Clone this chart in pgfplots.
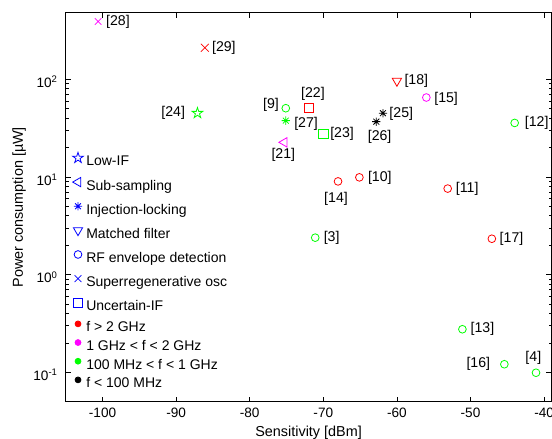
\documentclass[border=0pt]{standalone}
\usepackage{pgfplots}
\pgfplotsset{compat=1.18}
\usepackage{fontspec}
\setmainfont{Liberation Sans}
\pgfdeclareplotmark{pentagram}{%
  \pgfpathmoveto{\pgfqpoint{0pt}{\pgfplotmarksize}}%
  \pgfpathlineto{\pgfqpoint{-0.2245\pgfplotmarksize}{0.309\pgfplotmarksize}}%
  \pgfpathlineto{\pgfqpoint{-0.951\pgfplotmarksize}{0.309\pgfplotmarksize}}%
  \pgfpathlineto{\pgfqpoint{-0.363\pgfplotmarksize}{-0.118\pgfplotmarksize}}%
  \pgfpathlineto{\pgfqpoint{-0.588\pgfplotmarksize}{-0.809\pgfplotmarksize}}%
  \pgfpathlineto{\pgfqpoint{0pt}{-0.382\pgfplotmarksize}}%
  \pgfpathlineto{\pgfqpoint{0.588\pgfplotmarksize}{-0.809\pgfplotmarksize}}%
  \pgfpathlineto{\pgfqpoint{0.363\pgfplotmarksize}{-0.118\pgfplotmarksize}}%
  \pgfpathlineto{\pgfqpoint{0.951\pgfplotmarksize}{0.309\pgfplotmarksize}}%
  \pgfpathlineto{\pgfqpoint{0.2245\pgfplotmarksize}{0.309\pgfplotmarksize}}%
  \pgfpathclose
  \pgfusepathqstroke}
\pgfdeclareplotmark{ast8}{%
  \pgfpathmoveto{\pgfqpoint{-\pgfplotmarksize}{0pt}}%
  \pgfpathlineto{\pgfqpoint{\pgfplotmarksize}{0pt}}%
  \pgfpathmoveto{\pgfqpoint{0pt}{-\pgfplotmarksize}}%
  \pgfpathlineto{\pgfqpoint{0pt}{\pgfplotmarksize}}%
  \pgfpathmoveto{\pgfqpoint{-0.707\pgfplotmarksize}{-0.707\pgfplotmarksize}}%
  \pgfpathlineto{\pgfqpoint{0.707\pgfplotmarksize}{0.707\pgfplotmarksize}}%
  \pgfpathmoveto{\pgfqpoint{-0.707\pgfplotmarksize}{0.707\pgfplotmarksize}}%
  \pgfpathlineto{\pgfqpoint{0.707\pgfplotmarksize}{-0.707\pgfplotmarksize}}%
  \pgfusepathqstroke}
\pgfdeclareplotmark{osq}{%
  \pgfpathmoveto{\pgfqpoint{-\pgfplotmarksize}{-\pgfplotmarksize}}%
  \pgfpathlineto{\pgfqpoint{\pgfplotmarksize}{-\pgfplotmarksize}}%
  \pgfpathlineto{\pgfqpoint{\pgfplotmarksize}{\pgfplotmarksize}}%
  \pgfpathlineto{\pgfqpoint{-\pgfplotmarksize}{\pgfplotmarksize}}%
  \pgfpathclose
  \pgfusepathqstroke}
\definecolor{mred}{rgb}{1,0,0}
\definecolor{mgreen}{rgb}{0,1,0}
\definecolor{mmag}{rgb}{1,0,1}
\definecolor{mblue}{rgb}{0,0,1}
\pgfplotsset{legend image code/.code={\path[draw=none,fill=none] (-4pt,0pt) rectangle (4pt,7pt); \draw[line width=0.6pt,#1] plot coordinates {(0pt,3.5pt)};}}
\tikzset{lab/.style={font=\fontsize{10.6}{12.7}\selectfont, inner sep=0pt}}
\begin{document}
\begin{tikzpicture}
\useasboundingbox (-49.3pt,-27.9pt) rectangle (364.7pt,301.3pt);
\begin{axis}[
  scale only axis, width=364.3pt, height=291.8pt,
  xmin=-105, xmax=-39, ymode=log, ymin=0.05, ymax=480,
  font=\fontsize{10.2}{12}\selectfont,
  legend cell align=left,
  axis line style={line width=0.6pt},
  tick align=inside, xtick pos=both, ytick pos=both,
  major tick length=3.75pt, minor tick length=2.2pt,
  every tick/.style={line width=0.5pt, black},
  xtick={-100,-90,-80,-70,-60,-50,-40},
  xticklabels={-100,-90,-80,-70,-60,-50,-40},
  ytick={0.1,1,10,100},
  yticklabels={10\textsuperscript{-1},10\textsuperscript{0},10\textsuperscript{1},10\textsuperscript{2}},
  xticklabel style={yshift=-1.5pt},
  yticklabel style={xshift=-2.5pt, yshift=-2pt},
  xlabel={Sensitivity [dBm]},
  ylabel={Power consumption [µW]},
  xlabel style={at={(axis description cs:0.5,-0.08)}, anchor=center, font=\fontsize{10.8}{13}\selectfont},
  ylabel style={at={(axis description cs:-0.096,0.5)}, anchor=center, font=\fontsize{10.8}{13}\selectfont},
  legend style={at={(axis description cs:0.0143,0.641)}, anchor=north west, draw=none, fill=none,
    inner sep=0pt, outer sep=0pt, row sep=6.6pt, column sep=2.2pt,
    nodes={inner sep=0pt, text height=7pt, text depth=2pt},
    font=\fontsize{10.5}{12}\selectfont},
]
% data
\addplot[forget plot, only marks, color=red, mark=square, mark size=3.5pt, line width=0.6pt] coordinates {(-72.0,50.5)};
\addplot[forget plot, only marks, color=green, mark=square, mark size=3.5pt, line width=0.6pt] coordinates {(-70.0,27.5)};
\addplot[forget plot, only marks, mgreen, mark=pentagram, mark size=4.2pt, line width=0.6pt] coordinates {(-87.1,45)};
\addplot[forget plot, only marks, mmag, mark=triangle, mark size=4.1pt, mark options={rotate=90}, line width=0.6pt] coordinates {(-75.3,22.6)};
\addplot[forget plot, only marks, mgreen, mark=ast8, mark size=3.1pt, line width=0.6pt] coordinates {(-75.1,37.7)};
\addplot[forget plot, only marks, black, mark=ast8, mark size=3.1pt, line width=0.6pt] coordinates {(-61.9,44.9) (-62.8,36.8)};
\addplot[forget plot, only marks, mred, mark=triangle, mark size=4pt, mark options={rotate=180}, line width=0.6pt] coordinates {(-60.0,96)};
\addplot[forget plot, only marks, mred, mark=o, mark size=2.9pt, line width=0.6pt] coordinates {(-65.1,9.9) (-68.0,9.0) (-53.1,7.6) (-47.1,2.33)};
\addplot[forget plot, only marks, mmag, mark=o, mark size=2.9pt, line width=0.6pt] coordinates {(-56.0,65)};
\addplot[forget plot, only marks, mgreen, mark=o, mark size=2.9pt, line width=0.6pt] coordinates {(-75.1,50.5) (-44.0,35.7) (-71.1,2.39) (-51.1,0.276) (-45.4,0.121) (-41.1,0.099)};
\addplot[forget plot, only marks, mmag, mark=x, mark size=3.4pt, line width=0.6pt] coordinates {(-100.6,390)};
\addplot[forget plot, only marks, mred, mark=x, mark size=4.2pt, line width=0.6pt] coordinates {(-86.1,210)};
% labels right
\node[lab, anchor=west, xshift=5.8pt] at (axis cs:-100.6,390) {[28]};
\node[lab, anchor=west, xshift=5.25pt] at (axis cs:-86.1,210) {[29]};
\node[lab, anchor=west, xshift=6.2pt, yshift=-2.7pt] at (axis cs:-75.1,37.7) {[27]};
\node[lab, anchor=west, xshift=5pt] at (axis cs:-70.0,27.5) {[23]};
\node[lab, anchor=west, xshift=4.7pt, yshift=-0.75pt] at (axis cs:-61.9,44.9) {[25]};
\node[lab, anchor=west, xshift=5.5pt] at (axis cs:-60.0,96) {[18]};
\node[lab, anchor=west, xshift=5.8pt, yshift=-0.75pt] at (axis cs:-56.0,65) {[15]};
\node[lab, anchor=west, xshift=7.5pt] at (axis cs:-44.0,35.7) {[12]};
\node[lab, anchor=west, xshift=6.3pt] at (axis cs:-65.1,9.9) {[10]};
\node[lab, anchor=west, xshift=6pt, yshift=-0.5pt] at (axis cs:-53.1,7.6) {[11]};
\node[lab, anchor=west, xshift=6.2pt, yshift=-0.5pt] at (axis cs:-71.1,2.39) {[3]};
\node[lab, anchor=west, xshift=5.7pt] at (axis cs:-47.1,2.33) {[17]};
\node[lab, anchor=west, xshift=6pt] at (axis cs:-51.1,0.276) {[13]};
% labels left
\node[lab, anchor=east, xshift=-9.2pt] at (axis cs:-87.1,45) {[24]};
\node[lab, anchor=east, xshift=-5pt, yshift=2.5pt] at (axis cs:-75.1,50.5) {[9]};
\node[lab, anchor=east, xshift=-10.5pt] at (axis cs:-45.4,0.121) {[16]};
% labels above / below
\node[lab, anchor=center, xshift=3.3pt, yshift=10.5pt] at (axis cs:-72.0,50.5) {[22]};
\node[lab, anchor=center, xshift=-0.75pt, yshift=-9.5pt] at (axis cs:-75.3,22.6) {[21]};
\node[lab, anchor=center, xshift=2.5pt, yshift=-11.25pt] at (axis cs:-62.8,36.8) {[26]};
\node[lab, anchor=center, xshift=-1.5pt, yshift=-13.2pt] at (axis cs:-68.0,9.0) {[14]};
\node[lab, anchor=center, xshift=-2pt, yshift=11.25pt] at (axis cs:-41.1,0.099) {[4]};
% legend (type)
\addlegendimage{mblue, mark=pentagram, mark size=4.2pt}
\addlegendentry{Low-IF}
\addlegendimage{mblue, mark=triangle, mark size=4pt, mark options={rotate=90}}
\addlegendentry{Sub-sampling}
\addlegendimage{mblue, mark=ast8, mark size=3.1pt}
\addlegendentry{Injection-locking}
\addlegendimage{mblue, mark=triangle, mark size=4pt, mark options={rotate=180}}
\addlegendentry{Matched filter}
\addlegendimage{mblue, mark=o, mark size=2.9pt}
\addlegendentry{RF envelope detection}
\addlegendimage{mblue, mark=x, mark size=3.6pt}
\addlegendentry{Superregenerative osc}
\addlegendimage{mblue, mark=osq, mark size=3.5pt}
\addlegendentry{Uncertain-IF}
\end{axis}
\begin{axis}[
  scale only axis, width=364.3pt, height=291.8pt,
  xmin=-105, xmax=-39, ymin=0.05, ymax=480,
  hide axis,
  legend cell align=left,
  legend style={at={(axis description cs:0.0143,0.2121)}, anchor=north west, draw=none, fill=none,
    inner sep=0pt, outer sep=0pt, row sep=2.5pt, column sep=2.2pt,
    nodes={inner sep=0pt, text height=7pt, text depth=2pt},
    font=\fontsize{10.5}{12}\selectfont},
]
\addlegendimage{mred, mark=*, mark size=2.2pt}
\addlegendentry{f > 2 GHz}
\addlegendimage{mmag, mark=*, mark size=2.2pt}
\addlegendentry{1 GHz < f < 2 GHz}
\addlegendimage{mgreen, mark=*, mark size=2.2pt}
\addlegendentry{100 MHz < f < 1 GHz}
\addlegendimage{black, mark=*, mark size=2.2pt}
\addlegendentry{f < 100 MHz}
\end{axis}
\end{tikzpicture}
\end{document}
